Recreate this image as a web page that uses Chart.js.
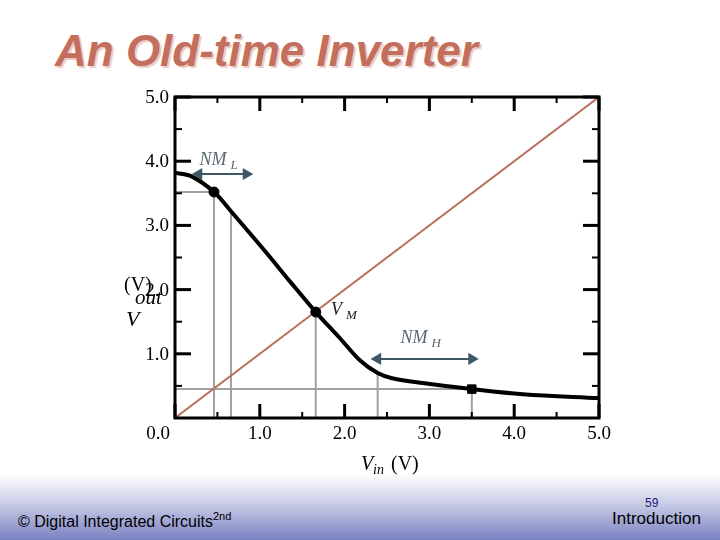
<!DOCTYPE html>
<html>
<head>
<meta charset="utf-8">
<script src="https://cdn.jsdelivr.net/npm/chart.js@4.4.1/dist/chart.umd.min.js"></script>
<style>
    html, body { margin: 0; padding: 0; }
    body { width: 720px; height: 540px; position: relative; overflow: hidden; background: #fff; }
    .title {
        position: absolute; left: 55px; top: 26px;
        font: bold italic 44px 'Liberation Sans', Arial, sans-serif;
        color: #c46f5e;
        text-shadow: 2px 2px 1px rgba(215, 160, 150, 0.55);
        white-space: nowrap;
    }
    .footer {
        position: absolute; left: 0; top: 474px; width: 720px; height: 66px;
        background: linear-gradient(to bottom, #ffffff 0%, #c9cce6 45%, #7a81c2 100%);
    }
    .footer-left {
        position: absolute; left: 18px; top: 510px;
        font: 16px 'Liberation Sans', Arial, sans-serif; color: #000;
    }
    .footer-left sup { font-size: 11px; vertical-align: 7px; }
    .page-num {
        position: absolute; left: 645px; top: 496px;
        font: 12px 'Liberation Sans', Arial, sans-serif; color: #1c2080;
    }
    .footer-right {
        position: absolute; left: 612px; top: 509px;
        font: 17px 'Liberation Sans', Arial, sans-serif; color: #000;
    }
    #vtc { position: absolute; left: 0; top: 0; }
</style>
</head>
<body>
<div class="footer"></div>
<div class="title">An Old-time Inverter</div>
<div class="footer-left">© Digital Integrated Circuits<sup>2nd</sup></div>
<div class="page-num">59</div>
<div class="footer-right">Introduction</div>
<canvas id="vtc" width="720" height="485"></canvas>
<script>
// transfer curve of the inverter
const vinCurve  = [0, 0.2, 0.46, 0.66, 1.08, 1.36, 1.66, 1.94, 2.18, 2.39, 2.56, 2.92, 3.5, 4.1, 5.0];
const voutCurve = [3.82, 3.76, 3.52, 3.22, 2.57, 2.12, 1.65, 1.25, 0.9, 0.7, 0.62, 0.545, 0.45, 0.37, 0.31];

// unity gain line
const diagX = [0, 5];
const diagY = [0, 5];

// dropped gray guide lines (x position, top of the line)
const guideX   = [0.46, 0.66, 1.66, 2.39, 3.5];
const guideTop = [3.52, 3.22, 1.65, 0.70, 0.45];
const vOH = 3.52;
const vOL = 0.45;

// marked points
const dotX = [0.46, 1.66];
const dotY = [3.52, 1.65];
const squareX = [3.5];
const squareY = [0.45];

// noise margin arrows
const nmLx = [0.28, 0.84];
const nmLy = 3.8;
const nmHx = [2.39, 3.5];
const nmHy = 0.92;

// ticks
const xTickValues = [0, 1, 2, 3, 4, 5];
const xTickLabels = ['0.0', '1.0', '2.0', '3.0', '4.0', '5.0'];
const yTickValues = [1, 2, 3, 4, 5];
const yTickLabels = ['1.0', '2.0', '3.0', '4.0', '5.0'];
const minorTicks = [0.5, 1.5, 2.5, 3.5, 4.5];

const SERIF = "'Liberation Serif', 'Times New Roman', serif";
const ARROW = '#3d5765';

function pts(xs, ys) {
    return xs.map((x, i) => ({ x: x, y: ys[i] }));
}

// build guides as one broken line
const guideData = [];
guideX.forEach((x, i) => {
    guideData.push({ x: x, y: guideTop[i] }, { x: x, y: 0 }, { x: x, y: null });
});
guideData.push({ x: 0, y: vOH }, { x: guideX[0], y: vOH }, { x: guideX[0], y: null });
guideData.push({ x: 0, y: vOL }, { x: squareX[0], y: vOL });

/**
 * Frame, inward ticks, tick labels and annotation text
 */
const framePlugin = {
    id: 'frame',
    afterDatasetsDraw(chart) {
        const ctx = chart.ctx;
        const a = chart.chartArea;
        const xs = chart.scales.x;
        const ys = chart.scales.y;
        ctx.save();

        // ticks on all four sides
        ctx.strokeStyle = '#000';
        const tick = (x1, y1, x2, y2, w) => {
            ctx.lineWidth = w;
            ctx.beginPath();
            ctx.moveTo(x1, y1);
            ctx.lineTo(x2, y2);
            ctx.stroke();
        };
        xTickValues.forEach(v => {
            const px = xs.getPixelForValue(v);
            tick(px, a.bottom, px, a.bottom - 14, 3);
            tick(px, a.top, px, a.top + 14, 3);
        });
        yTickValues.forEach(v => {
            const py = ys.getPixelForValue(v);
            tick(a.left, py, a.left + 16, py, 3);
            tick(a.right, py, a.right - 16, py, 3);
        });
        minorTicks.forEach(v => {
            const px = xs.getPixelForValue(v);
            tick(px, a.bottom, px, a.bottom - 6, 2);
            tick(px, a.top, px, a.top + 6, 2);
            const py = ys.getPixelForValue(v);
            tick(a.left, py, a.left + 7, py, 2);
            tick(a.right, py, a.right - 7, py, 2);
        });

        // frame
        ctx.lineWidth = 3;
        ctx.strokeRect(a.left, a.top, a.right - a.left, a.bottom - a.top);

        // tick labels
        ctx.fillStyle = '#000';
        ctx.font = '19px ' + SERIF;
        ctx.textBaseline = 'middle';
        ctx.textAlign = 'right';
        yTickValues.forEach((v, i) => {
            ctx.fillText(yTickLabels[i], a.left - 6, ys.getPixelForValue(v) + 1);
        });
        ctx.textAlign = 'center';
        xTickValues.forEach((v, i) => {
            const shift = v === 0 ? -17 : 0;
            ctx.fillText(xTickLabels[i], xs.getPixelForValue(v) + shift, a.bottom + 16);
        });

        // axis titles
        ctx.textAlign = 'left';
        ctx.textBaseline = 'alphabetic';
        ctx.font = 'italic 20px ' + SERIF;
        ctx.fillText('V', 361, 470);
        ctx.font = 'italic 14px ' + SERIF;
        ctx.fillText('in', 373, 474);
        ctx.font = '20px ' + SERIF;
        ctx.fillText('(V)', 391, 470);

        ctx.font = '20px ' + SERIF;
        ctx.fillText('(V)', 124, 291);
        ctx.font = 'italic 21px ' + SERIF;
        ctx.fillText('out', 135, 304);
        ctx.font = 'italic 22px ' + SERIF;
        ctx.fillText('V', 126, 326);

        // annotation labels
        ctx.fillStyle = '#5a6870';
        const label = (main, sub, x, y) => {
            ctx.font = 'italic 18px ' + SERIF;
            ctx.fillText(main, x, y);
            const w = ctx.measureText(main).width;
            ctx.font = 'italic 13px ' + SERIF;
            ctx.fillText(sub, x + w + 4, y + 4);
        };
        label('NM', 'L', xs.getPixelForValue(0.29), ys.getPixelForValue(3.94));
        label('NM', 'H', xs.getPixelForValue(2.66), ys.getPixelForValue(1.17));
        ctx.fillStyle = '#222';
        label('V', 'M', xs.getPixelForValue(1.84), ys.getPixelForValue(1.6));

        ctx.restore();
    }
};

function createVtcChart(canvas) {
    new Chart(canvas.getContext('2d'), {
        type: 'line',
        data: {
            datasets: [
                {
                    data: pts(vinCurve, voutCurve),
                    borderColor: '#000',
                    borderWidth: 4,
                    pointRadius: 0,
                    tension: 0.35,
                    order: 0
                },
                {
                    data: pts(dotX, dotY),
                    showLine: false,
                    pointStyle: 'circle',
                    pointRadius: 5,
                    pointBackgroundColor: '#000',
                    pointBorderColor: '#000',
                    order: -1
                },
                {
                    data: pts(squareX, squareY),
                    showLine: false,
                    pointStyle: 'rect',
                    pointRadius: 6,
                    pointBackgroundColor: '#000',
                    pointBorderColor: '#000',
                    order: -1
                },
                {
                    data: pts(diagX, diagY),
                    borderColor: '#b8705f',
                    borderWidth: 2,
                    pointRadius: 0,
                    order: 1
                },
                {
                    data: guideData,
                    borderColor: '#a0a0a0',
                    borderWidth: 2,
                    pointRadius: 0,
                    spanGaps: false,
                    order: 2
                },
                {
                    data: pts(nmLx, [nmLy, nmLy]),
                    borderColor: ARROW,
                    borderWidth: 2,
                    pointStyle: 'triangle',
                    pointRadius: 5,
                    pointRotation: [-90, 90],
                    pointBackgroundColor: ARROW,
                    pointBorderColor: ARROW,
                    order: 0
                },
                {
                    data: pts(nmHx, [nmHy, nmHy]),
                    borderColor: ARROW,
                    borderWidth: 2,
                    pointStyle: 'triangle',
                    pointRadius: 5,
                    pointRotation: [-90, 90],
                    pointBackgroundColor: ARROW,
                    pointBorderColor: ARROW,
                    order: 0
                }
            ]
        },
        options: {
            responsive: false,
            animation: false,
            layout: {
                padding: { left: 175, right: 121, top: 97, bottom: 67 }
            },
            plugins: {
                legend: { display: false },
                tooltip: { enabled: false }
            },
            scales: {
                x: { type: 'linear', min: 0, max: 5, display: false },
                y: { type: 'linear', min: 0, max: 5, display: false }
            }
        },
        plugins: [framePlugin]
    });
}

createVtcChart(document.getElementById('vtc'));
</script>
</body>
</html>
